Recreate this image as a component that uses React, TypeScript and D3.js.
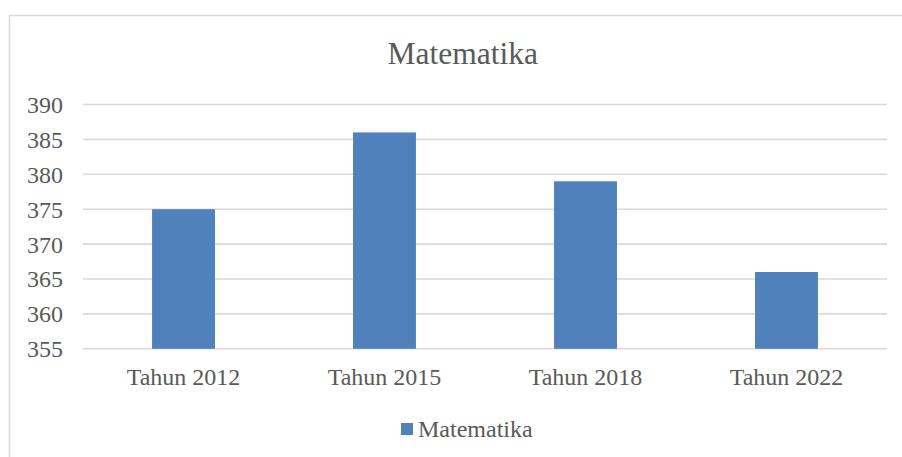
import React from "react";
import * as d3 from "d3";

const categories: string[] = ["Tahun 2012", "Tahun 2015", "Tahun 2018", "Tahun 2022"];
const values: number[] = [375, 386, 379, 366];
const yTicks: number[] = [355, 360, 365, 370, 375, 380, 385, 390];
const title = "Matematika";
const seriesName = "Matematika";

const W = 902;
const H = 457;
const plotLeft = 83;
const plotRight = 887;
const plotTop = 104.5;
const plotBottom = 348.8;
const textColor = "#595959";
const gridColor = "#d9d9d9";
const barColor = "#4f81bd";
const font = "'Liberation Serif', 'Times New Roman', serif";

export default function App() {
  const x = d3
    .scaleBand<string>()
    .domain(categories)
    .range([plotLeft, plotRight])
    .paddingInner(0.687)
    .paddingOuter(0.687 / 2);
  const y = d3.scaleLinear().domain([355, 390]).range([plotBottom, plotTop]);

  return (
    <svg
      width={W}
      height={H}
      style={{ position: "absolute", left: 0, top: 0, background: "#fff" }}
    >
      <rect x={9.5} y={15.5} width={W + 20} height={H + 20} fill="#fff" stroke={gridColor} strokeWidth={1.5} />
      <text
        x={462.7}
        y={64}
        textAnchor="middle"
        fontFamily={font}
        fontSize={31.5}
        fill={textColor}
      >
        {title}
      </text>
      {yTicks.map((t) => (
        <g key={t}>
          <line x1={plotLeft} x2={plotRight} y1={y(t)} y2={y(t)} stroke={gridColor} strokeWidth={1.6} />
          <text
            x={63}
            y={y(t)}
            dy="0.35em"
            textAnchor="end"
            fontFamily={font}
            fontSize={24}
            fill={textColor}
          >
            {t}
          </text>
        </g>
      ))}
      {categories.map((c, i) => (
        <rect
          key={c}
          x={x(c)!}
          y={y(values[i])}
          width={x.bandwidth()}
          height={y(355) - y(values[i])}
          fill={barColor}
        />
      ))}
      {categories.map((c) => (
        <text
          key={c}
          x={x(c)! + x.bandwidth() / 2}
          y={385}
          textAnchor="middle"
          fontFamily={font}
          fontSize={24}
          fill={textColor}
        >
          {c}
        </text>
      ))}
      <rect x={401} y={423} width={12} height={12} fill={barColor} />
      <text x={418} y={436.5} fontFamily={font} fontSize={24} fill={textColor}>
        {seriesName}
      </text>
    </svg>
  );
}
